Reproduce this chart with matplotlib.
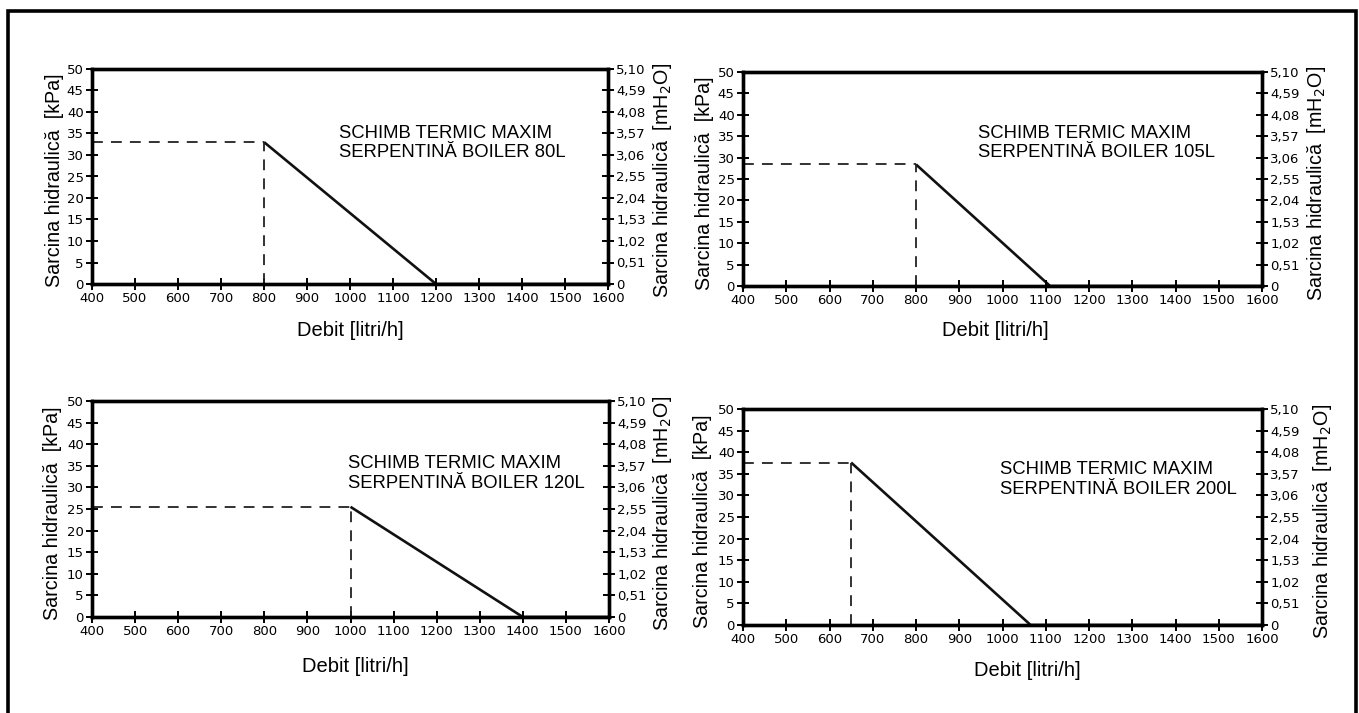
import matplotlib
matplotlib.use("Agg")
import matplotlib.pyplot as plt
from matplotlib.patches import Rectangle

# Axis scales shared by all four diagrams
flow_ticks = [400, 500, 600, 700, 800, 900, 1000, 1100, 1200, 1300, 1400, 1500, 1600]
kpa_ticks = [0, 5, 10, 15, 20, 25, 30, 35, 40, 45, 50]
mh2o_ticks = [0, 0.51, 1.02, 1.53, 2.04, 2.55, 3.06, 3.57, 4.08, 4.59, 5.10]
mh2o_labels = ["0", "0,51", "1,02", "1,53", "2,04", "2,55", "3,06", "3,57", "4,08", "4,59", "5,10"]

# One entry per boiler coil: nominal working point and zero-head flow
boilers = ["80L", "105L", "120L", "200L"]
start_flow = [800, 800, 1000, 650]        # litri/h
start_head = [33.0, 28.4, 25.5, 37.6]     # kPa
zero_flow = [1200, 1110, 1400, 1065]      # litri/h

# Layout (figure fractions) and note placement (data coords)
W, H = 1359, 713
panel_px = [(92, 69, 608, 284), (743, 72, 1262, 286),
            (92, 401, 609, 617), (743, 409, 1262, 625)]
note_xy = [(975, 32.8), (943, 33.4), (994, 33.2), (994, 33.6)]
xlabel_off = [(0, 46), (-7, 44), (5, 49), (25, 45)]
ylab_left = [37, 38, 40, 41]
ylab_right = [54, 55, 54, 60]

plt.rcParams['font.family'] = ['Liberation Sans', 'DejaVu Sans']

fig = plt.figure(figsize=(W / 100, H / 100), dpi=100)
fig.patch.set_facecolor('white')

# outer frame
fig.add_artist(Rectangle((8 / W, -0.05), (1356 - 8) / W, 1.05 - 11 / H,
                         transform=fig.transFigure, fill=False,
                         edgecolor='black', linewidth=2.6))

tick_font = dict(family='DejaVu Sans', size=9.5)

for i in range(4):
    x0, y0, x1, y1 = panel_px[i]
    ax = fig.add_axes([x0 / W, 1 - y1 / H, (x1 - x0) / W, (y1 - y0) / H])
    ax.set_xlim(400, 1600)
    ax.set_ylim(0, 50)
    for s in ax.spines.values():
        s.set_linewidth(2.4)
        s.set_color('black')

    ax.set_xticks(flow_ticks)
    ax.set_xticklabels([str(v) for v in flow_ticks], fontdict=tick_font)
    ax.set_yticks(kpa_ticks)
    ax.set_yticklabels([str(v) for v in kpa_ticks], fontdict=tick_font)
    ax.tick_params(direction='inout', length=8, width=1.4, pad=2, colors='black')

    # working point guides
    ax.plot([400, start_flow[i]], [start_head[i], start_head[i]],
            color='#222222', lw=1.3, dashes=(6, 4.5))
    ax.plot([start_flow[i], start_flow[i]], [0, start_head[i]],
            color='#222222', lw=1.3, dashes=(6, 4.5))
    # head loss characteristic
    ax.plot([start_flow[i], zero_flow[i], 1600], [start_head[i], 0, 0],
            color='#111111', lw=1.9, solid_capstyle='butt', clip_on=False, zorder=1)

    ax.text(note_xy[i][0], note_xy[i][1],
            "SCHIMB TERMIC MAXIM\nSERPENTINĂ BOILER " + boilers[i],
            fontsize=13.3, ha='left', va='center', linespacing=1.22,
            bbox=dict(facecolor='white', edgecolor='none', pad=1))

    axr = ax.twinx()
    axr.set_ylim(0, 5.10)
    axr.set_yticks(mh2o_ticks)
    axr.set_yticklabels(mh2o_labels, fontdict=tick_font)
    axr.tick_params(direction='inout', length=8, width=1.4, pad=2, colors='black')
    for s in axr.spines.values():
        s.set_linewidth(2.4)

    # axis titles
    cx = (x0 + x1) / 2 + xlabel_off[i][0]
    fig.text(cx / W, 1 - (y1 + xlabel_off[i][1]) / H, "Debit [litri/h]",
             fontsize=14.5, ha='center', va='center')
    cy = (y0 + y1) / 2 + 4
    fig.text((x0 - ylab_left[i]) / W, 1 - cy / H, "Sarcina hidraulică  [kPa]",
             fontsize=14.2, ha='center', va='center', rotation=90)
    fig.text((x1 + ylab_right[i]) / W, 1 - cy / H, "Sarcina hidraulică  [mH$_2$O]",
             fontsize=14.2, ha='center', va='center', rotation=90)

fig.savefig("out.png", dpi=100, facecolor='white')
